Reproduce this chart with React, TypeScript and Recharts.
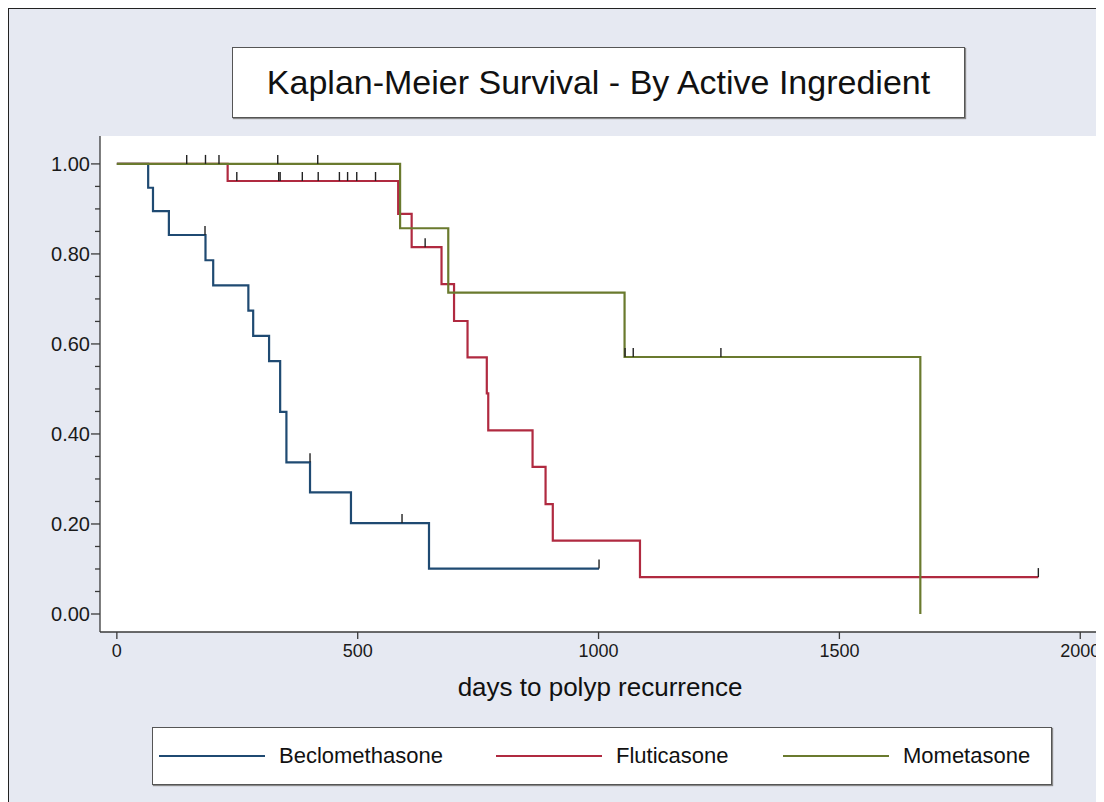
import {
  CartesianGrid,
  ComposedChart,
  Line,
  Scatter,
  XAxis,
  YAxis,
} from "recharts";

// Kaplan-Meier step values: t = days, s = survival
const beclomethasone = [
  { t: 0, s: 1 },
  { t: 65, s: 0.947 },
  { t: 75, s: 0.895 },
  { t: 108, s: 0.842 },
  { t: 184, s: 0.786 },
  { t: 200, s: 0.73 },
  { t: 273, s: 0.674 },
  { t: 283, s: 0.618 },
  { t: 316, s: 0.562 },
  { t: 339, s: 0.449 },
  { t: 352, s: 0.337 },
  { t: 401, s: 0.27 },
  { t: 486, s: 0.202 },
  { t: 648, s: 0.101 },
  { t: 1001, s: 0.101 },
];

const fluticasone = [
  { t: 0, s: 1 },
  { t: 230, s: 0.962 },
  { t: 584, s: 0.889 },
  { t: 612, s: 0.815 },
  { t: 674, s: 0.733 },
  { t: 700, s: 0.651 },
  { t: 728, s: 0.57 },
  { t: 768, s: 0.49 },
  { t: 771, s: 0.408 },
  { t: 863, s: 0.327 },
  { t: 890, s: 0.244 },
  { t: 905, s: 0.163 },
  { t: 1086, s: 0.082 },
  { t: 1913, s: 0.082 },
];

const mometasone = [
  { t: 0, s: 1 },
  { t: 588, s: 0.857 },
  { t: 688, s: 0.714 },
  { t: 1054, s: 0.571 },
  { t: 1668, s: 0 },
];

// censoring marks
const beclomethasoneCensored = [
  { t: 183, s: 0.842 },
  { t: 401, s: 0.337 },
  { t: 592, s: 0.202 },
  { t: 1001, s: 0.101 },
];

const fluticasoneCensored = [
  { t: 145, s: 1 },
  { t: 184, s: 1 },
  { t: 212, s: 1 },
  { t: 249, s: 0.962 },
  { t: 336, s: 0.962 },
  { t: 339, s: 0.962 },
  { t: 385, s: 0.962 },
  { t: 418, s: 0.962 },
  { t: 462, s: 0.962 },
  { t: 479, s: 0.962 },
  { t: 498, s: 0.962 },
  { t: 537, s: 0.962 },
  { t: 640, s: 0.815 },
  { t: 1913, s: 0.082 },
];

const mometasoneCensored = [
  { t: 334, s: 1 },
  { t: 417, s: 1 },
  { t: 1055, s: 0.571 },
  { t: 1072, s: 0.571 },
  { t: 1254, s: 0.571 },
];

const xTicks = [0, 500, 1000, 1500, 2000];
const yTicks = [
  0, 0.05, 0.1, 0.15, 0.2, 0.25, 0.3, 0.35, 0.4, 0.45, 0.5, 0.55, 0.6, 0.65,
  0.7, 0.75, 0.8, 0.85, 0.9, 0.95, 1,
];

const series = [
  { name: "Beclomethasone", color: "#1f4a72", data: beclomethasone, censored: beclomethasoneCensored },
  { name: "Fluticasone", color: "#b02a40", data: fluticasone, censored: fluticasoneCensored },
  { name: "Mometasone", color: "#6a7a2e", data: mometasone, censored: mometasoneCensored },
];

const FONT = "'Liberation Sans', Arial, Helvetica, sans-serif";
const AXIS = "#3a3a3a";
const W = 1096;
const H = 794;

function YTick({ x, y, payload }: any) {
  const major = Math.round(payload.value * 100) % 20 === 0;
  return (
    <g>
      <line x1={x - (major ? 9 : 5)} x2={x} y1={y} y2={y} stroke={AXIS} strokeWidth={1.3} />
      {major && (
        <text x={x - 10} y={y} dy="0.36em" textAnchor="end" fontSize={20} fill="#1a1a1a" fontFamily={FONT}>
          {payload.value.toFixed(2)}
        </text>
      )}
    </g>
  );
}

function XTick({ x, y, payload }: any) {
  return (
    <text x={x} y={y} dy="0.8em" textAnchor="middle" fontSize={18} fill="#1a1a1a" fontFamily={FONT}>
      {payload.value}
    </text>
  );
}

function CensorMark({ cx, cy }: any) {
  return <line x1={cx} x2={cx} y1={cy} y2={cy - 9} stroke="#222" strokeWidth={1.4} />;
}

export default function App() {
  return (
    <div
      style={{
        position: "relative",
        width: W,
        height: H,
        background: "#e6e9f2",
        boxShadow: "inset 1px 1px 0 #222",
        fontFamily: FONT,
        overflow: "hidden",
      }}
    >
      <ComposedChart
        width={W}
        height={H}
        margin={{ top: 128, right: 4, bottom: 130, left: 0 }}
        style={{ position: "absolute", left: 0, top: 0 }}
      >
        <CartesianGrid horizontal={false} vertical={false} fill="#ffffff" />
        <XAxis
          dataKey="t"
          type="number"
          domain={[-35, 2041]}
          ticks={xTicks}
          allowDataOverflow
          height={40}
          stroke={AXIS}
          strokeWidth={1.3}
          tickSize={7}
          tickMargin={4}
          tick={<XTick />}
        />
        <YAxis
          dataKey="s"
          type="number"
          domain={[-0.04, 1.062]}
          ticks={yTicks}
          allowDataOverflow
          width={92}
          stroke={AXIS}
          strokeWidth={1.3}
          tickSize={0}
          tickMargin={0}
          tickLine={false}
          tick={<YTick />}
          interval={0}
        />
        {series.map((sr) => (
          <Line
            key={sr.name}
            data={sr.data}
            dataKey="s"
            type="stepAfter"
            stroke={sr.color}
            strokeWidth={2.2}
            dot={false}
            activeDot={false}
            isAnimationActive={false}
          />
        ))}
        {series.map((sr) => (
          <Scatter
            key={sr.name + "-c"}
            data={sr.censored}
            dataKey="s"
            shape={<CensorMark />}
            isAnimationActive={false}
          />
        ))}
      </ComposedChart>

      <div
        style={{
          position: "absolute",
          left: 224,
          top: 39,
          width: 733,
          height: 71,
          boxSizing: "border-box",
          background: "#fff",
          border: "1px solid #555",
          boxShadow: "1px 1px 1px #888",
          display: "flex",
          alignItems: "center",
          justifyContent: "center",
          fontSize: 34,
          color: "#111",
        }}
      >
        Kaplan-Meier Survival - By Active Ingredient
      </div>

      <div
        style={{
          position: "absolute",
          left: 92,
          width: 1000,
          top: 664,
          textAlign: "center",
          fontSize: 26,
          color: "#111",
        }}
      >
        days to polyp recurrence
      </div>

      <div
        style={{
          position: "absolute",
          left: 144,
          top: 719,
          width: 900,
          height: 58,
          boxSizing: "border-box",
          background: "#fff",
          border: "1px solid #555",
          boxShadow: "1px 1px 1px #888",
          fontSize: 22,
          color: "#111",
        }}
      >
        {series.map((sr, i) => {
          const lineLeft = [6, 343, 630][i];
          return (
            <div key={sr.name} style={{ position: "absolute", left: lineLeft, top: 0, height: 56, display: "flex", alignItems: "center" }}>
              <div style={{ width: 106, height: 2, background: sr.color }} />
              <span style={{ marginLeft: 14 }}>{sr.name}</span>
            </div>
          );
        })}
      </div>
    </div>
  );
}
